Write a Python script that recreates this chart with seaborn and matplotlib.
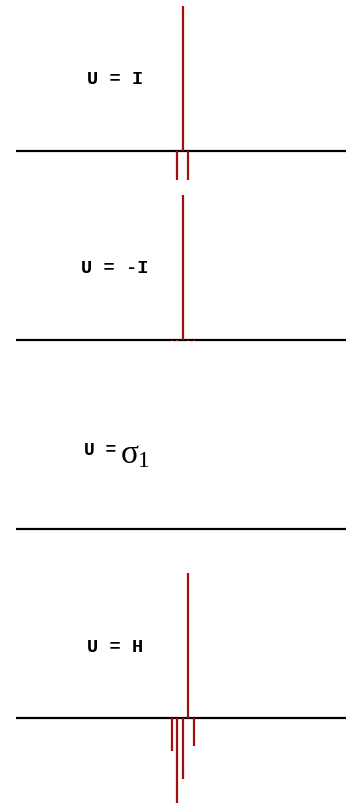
import matplotlib
matplotlib.use("Agg")
import matplotlib.pyplot as plt
import seaborn as sns

# ---------------- DATA ----------------

labels = ["U = I", "U = -I", "U =", "U = H"]

pos_I = [-1, 0, 1]
val_I = [-0.20, 1.0, -0.20]

pos_negI = [-2, -1, 0, 1, 2]
val_negI = [-0.006, -0.006, 1.0, -0.006, -0.006]

pos_sigma = []
val_sigma = []

pos_H = [-2, -1, 0, 1, 2]
val_H = [-0.23, -0.586, -0.42, 1.0, -0.19]

panels = [(pos_I, val_I), (pos_negI, val_negI), (pos_sigma, val_sigma), (pos_H, val_H)]

# ---------------- STYLE ----------------

sns.set_theme(style="white")
plt.rcParams["mathtext.fontset"] = "custom"
plt.rcParams["mathtext.rm"] = "Liberation Serif"
plt.rcParams["mathtext.it"] = "Liberation Serif"

STEM_COLOR = "#9e1010"
W, H = 346, 804
BAND = 189

fig = plt.figure(figsize=(W / 100, H / 100), dpi=100)

for i, (xs, ys) in enumerate(panels):
    top = i * BAND
    ax = fig.add_axes([16 / W, 1 - (top + BAND) / H, 330 / W, BAND / H])
    ax.set_xlim(-30.3, 29.7)
    ax.set_ylim(-37 / 145, 152 / 145)
    ax.axis("off")

    ax.axhline(0, color="black", lw=1.6, zorder=1)
    if len(xs):
        ax.vlines(xs, 0, ys, color=STEM_COLOR, lw=1.6, clip_on=False, zorder=2)

    if i == 2:
        # label mixes a mono "U =" with a serif sigma
        ax.text((84 - 16) / 330, 79 / 145, labels[i], ha="left", va="center",
                transform=ax.get_yaxis_transform(), family="Liberation Mono",
                weight="bold", fontsize=13, color="black")
        ax.text((120 - 16) / 330, 76 / 145, r"$\sigma_1$", ha="left", va="center",
                transform=ax.get_yaxis_transform(), fontsize=24, color="black")
    else:
        ax.text(-12.3, 72 / 145, labels[i], ha="center", va="center",
                family="Liberation Mono", weight="bold", fontsize=13.5, color="black")

fig.savefig("out.png", dpi=100)
